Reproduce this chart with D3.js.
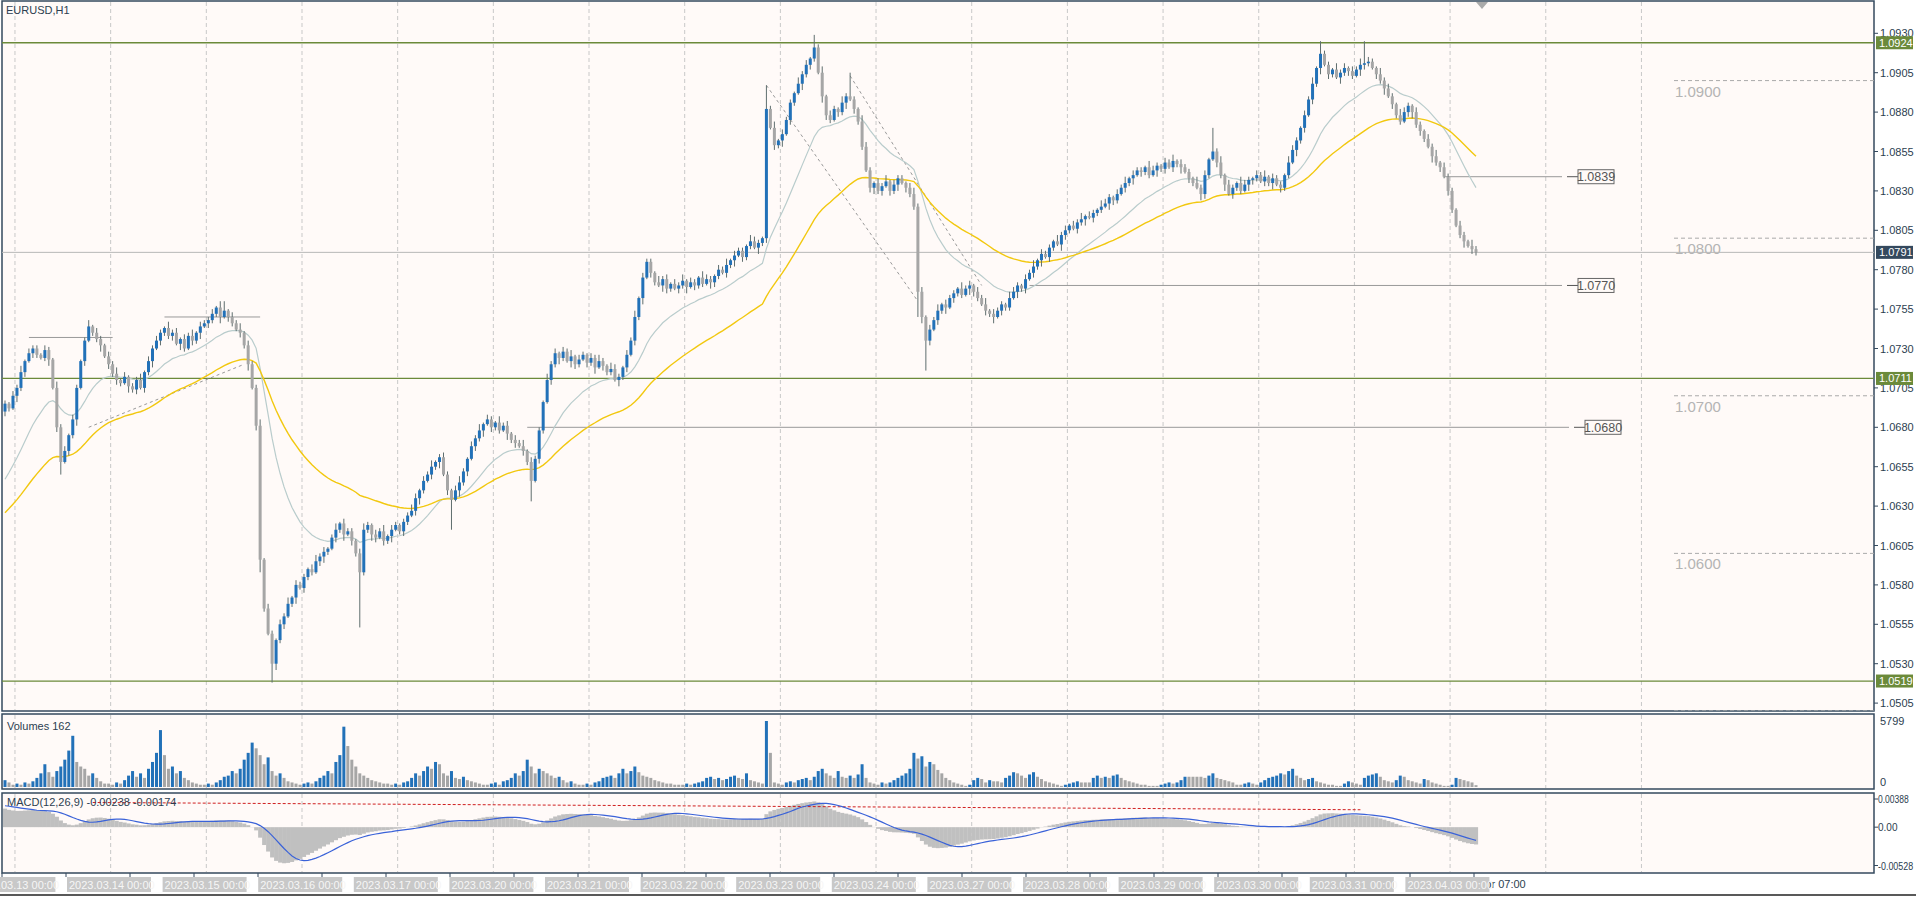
<!DOCTYPE html>
<html><head><meta charset="utf-8">
<script src="https://cdn.jsdelivr.net/npm/d3@7"></script>
<style>body{margin:0;background:#fff;overflow:hidden}svg{display:block}text{font-family:"Liberation Sans",Arial,sans-serif}</style>
</head><body><svg id="c" width="1916" height="897"></svg>
<script>
// ---------------- DATA ----------------
const symbol = "EURUSD,H1";
const pipBase = 1.05; // close values below are in pips above 1.0500
const closePips = [
195,192,200,205,215,222,227, 230,226,224,229,223, 205,180,158, 165,175,185, 205,222,235,244,
240,236,232,225,220,214,210, 208,212,206,204, 210,205,215,222,230,235,240,243,
238,240,233,236,230,238,235, 240,244,246,248,252,256,250,254, 250,246,242,240,232,220,
205,181,96, 65,49,30, 45,55,60,68,72, 80,78,85,90,88,95,98,101,103, 110,115,119,
112,114,108,100,88,115, 118,112,110,114,108,111, 115,118,114,120,124,127,
135,140,146,150,155,158,161, 150,140,134, 140,145,152,160,168,173, 178,182,185,
180,183,178,181,176,172,170,168,165, 158,146, 160,178,196, 210,220,227,
224,228,222,225,220,223,226,221,224,218,222,219, 215,217,210,212, 218,226,235,
250,262,275,285, 278,272,270,274,268,271,268, 270,273,269,272,270,275,271,274,272,
276,280,278,283,286,289, 292,288,295,298,294,297,300, 382,370,359, 362,366,375,386,
392,398,404,410,414,421, 405,390,378, 375,382,380,386,390, 388,382,374, 358,343,332,
335,330,333,336,330,334,338,335,332, 328,320, 266,250,235, 242,248,254,258,
256,262,265,268,264,268,270, 266,262,258,254,252,250, 254,258,256,262,266,270,268,274,278,
282,286,290,288,294,298,296,302,305, 308,306,310,312,314,313,316,318,320,
322,326,324,328,332,335,338,340,343, 342,345,340,343,346,344,348,345,349,347,
345,342,338,335,332,328, 340,350,355, 348,340,334,328, 332,335,330,334,337,338,
340,336,339,335,338,334,332, 340,348,356,362,370,378, 388,398,408,417,
410,404,407,402,405, 408,406,403,407,410,411, 412,408,404,400,395,390,
385,378,374, 380,384,380, 372,368,363, 358,352,348,345,339, 330,318,308, 302,298,295,293,291];
const firstOpenPips = 190;
const wickUp   = "2132413221321423132124132132413122413232142313241322314213241322413213241322134231241322134213241321224313241232134213241321423132413221423132413213242143213241322142313241321432132413221432132413221423132413214232143213241322134231324132214231324132214321324132214231324132143213241322143213241322142313241321432132413221432132413221423132413214232143213";
const wickDown = "3214231321241321324131224132321423132413223142132413224132132413221342312413221342132413212243132412321342132413214231324132214231324132132421432132413221423132413214321324132214321324132214231324132142321432132413221342313241322142313241322143213241322142313241321432132413221432132413221423132413214321324132214321324132214231324132142321432132413221342";
const wickOverride = {14:{l:150},55:{h:260},64:{l:88},67:{l:18},89:{l:53},112:{l:115},132:{l:133},
  191:{h:397},203:{h:429},212:{h:405},229:{l:250},231:{l:216},303:{h:370},330:{h:425},341:{h:425}};
const volHundreds = [6,4,
2,3,2,4,3,5,8,12,20,13,9,14,18,24,32,45,22,18,16,10,12,8,5,3,
3,2,4,3,6,10,14,9,12,8,16,22,30,50,28,16,18,12,14,8,6,4,3,2,
2,3,2,4,6,9,10,14,12,16,24,30,39,34,28,20,26,14,10,12,8,5,4,3,
2,3,4,3,5,8,10,14,12,22,28,53,36,24,18,12,10,8,6,5,4,3,3,2,
3,2,4,5,8,12,10,14,18,16,22,20,12,10,14,8,7,9,6,5,4,3,2,2,
3,4,2,5,6,8,12,10,14,24,18,12,16,14,12,10,8,9,6,4,5,3,2,2,
3,2,4,5,8,9,10,8,12,16,12,14,18,13,10,9,8,6,5,4,3,3,2,2,
2,3,2,3,4,5,8,9,7,8,6,7,9,10,8,7,12,6,5,4,3,57.99,30,4,
3,2,4,5,4,6,7,8,6,9,14,16,12,10,8,14,9,8,10,8,11,20,8,4,
3,2,4,3,4,6,8,10,12,16,30,25,27,18,22,20,15,12,8,6,4,3,2,1,
2,6,8,7,4,6,5,5,4,8,10,13,12,10,8,11,13,9,7,5,4,3,2,1,
2,3,4,5,4,4,4,8,10,8,9,8,10,11,8,6,5,4,3,2,2,1,1,1,
2,3,4,3,4,6,9,9,9,9,9,8,10,12,8,7,6,5,4,2,2,3,4,3,
2,4,6,8,9,10,12,11,14,16,10,8,6,7,8,5,4,3,2,2,1,1,3,5,
4,3,2,8,10,11,12,9,6,5,4,6,10,9,6,5,4,3,7,6,4,3,2,1,
1,2,8,7,6,5,4,1.62];
const maFastPeriod = 20, maSlowPeriod = 50;
const maFastSeed = 1.0642, maSlowSeed = 1.0623;
const ema12Seed = 1.0688, ema26Seed = 1.0661, macdSignalSeed = 0.0030;
const priceTicks = [1.0930,1.0905,1.0880,1.0855,1.0830,1.0805,1.0780,1.0755,1.0730,1.0705,1.0680,1.0655,1.0630,1.0605,1.0580,1.0555,1.0530,1.0505];
const greenLevels = [1.0924,1.0711,1.0519];
const currentPrice = 1.0791;
const roundLevels = [1.0900,1.0800,1.0700,1.0600,1.0500];
const labeledLevels = [{p:1.0839,from:361,bx:1578},{p:1.0770,from:257,bx:1578},{p:1.0680,from:131,bx:1585}];
const shortLevels = [{p:1.0737,from:6,to:27},{p:1.0750,from:40,to:64}];
const trendLines = [[191,1.0897,229,1.0760],[212,1.0903,245,1.0770],[21,1.0680,60,1.0720]];
const macdRedLine = [[22,0.0034],[340,0.0024]];
const macdTicks = [0.00388,0,-0.00528];
const macdTickLabels = ["0.00388","0.00","-0.00528"];
const dayBoxes = ["2023.03.13 00:00","2023.03.14 00:00","2023.03.15 00:00","2023.03.16 00:00","2023.03.17 00:00","2023.03.20 00:00","2023.03.21 00:00","2023.03.22 00:00","2023.03.23 00:00","2023.03.24 00:00","2023.03.27 00:00","2023.03.28 00:00","2023.03.29 00:00","2023.03.30 00:00","2023.03.31 00:00","2023.04.03 00:00"];
const lastLabel = "Apr 07:00";

// ---------------- BUILD ----------------
const N = closePips.length;
const P = v => +(pipBase + v/10000).toFixed(5);
const candles = closePips.map((c,i)=>{
  const o = i===0 ? firstOpenPips : closePips[i-1];
  let h = Math.max(o,c) + (+wickUp[i % wickUp.length]);
  let l = Math.min(o,c) - (+wickDown[i % wickDown.length]);
  const ov = wickOverride[i]; if(ov){ if(ov.h) h=ov.h; if(ov.l) l=ov.l; }
  return {i,o:P(o),c:P(c),h:P(h),l:P(l),v:Math.round(volHundreds[i]*100)};
});
function ema(vals,period,seed){const k=2/(period+1);let e=seed;return vals.map(v=>e=v*k+e*(1-k));}
const closes = candles.map(d=>d.c);
const maF = ema(closes,maFastPeriod,maFastSeed), maS = ema(closes,maSlowPeriod,maSlowSeed);
const e12 = ema(closes,12,ema12Seed), e26 = ema(closes,26,ema26Seed);
const macd = e12.map((v,i)=>v-e26[i]);
let sig=[]; macd.forEach((m,i)=>{const w=macd.slice(Math.max(0,i-8),i+1);const pad=9-w.length;sig.push((w.reduce((a,b)=>a+b,0)+pad*macdSignalSeed)/9);});

const svg = d3.select("#c");
const BG="#fffaf8", AX="#34495e", TXT="#2c3e50";
svg.append("rect").attr("width",1916).attr("height",897).attr("fill","#fff");
const L=2,R=1874;
const panels={main:[1,711],vol:[714,789],macd:[793,873]};
Object.values(panels).forEach(([t,b])=>svg.append("rect").attr("x",L).attr("y",t).attr("width",R-L).attr("height",b-t).attr("fill",BG).attr("stroke",AX).attr("stroke-width",1.5));

const x = d3.scaleLinear().domain([0,N-1]).range([5,1476]);
const y = d3.scaleLinear().domain([1.0930,1.0505]).range([33.3,703.1]);
const yv = d3.scaleLinear().domain([0,5799]).range([787,721]);
const ym = d3.scaleLinear().domain([0.00388,-0.00528]).range([799,865.5]);

const grid = svg.append("g");
d3.range(2.5,N+60,24).forEach(k=>{const gx=x(k);if(gx<R)[panels.main,panels.vol,panels.macd].forEach(([t,b])=>grid.append("line").attr("x1",gx).attr("x2",gx).attr("y1",t+1).attr("y2",b-1).attr("stroke","#c8c8c8").attr("stroke-dasharray","4,3"));});

svg.append("defs").append("clipPath").attr("id","cm").append("rect").attr("x",L).attr("y",1).attr("width",R-L).attr("height",710);
const gm = svg.append("g").attr("clip-path","url(#cm)");

roundLevels.forEach(p=>{gm.append("line").attr("x1",1674).attr("x2",R).attr("y1",y(p)).attr("y2",y(p)).attr("stroke","#aaa").attr("stroke-dasharray","4,3");
  if(y(p)+18<711) gm.append("text").attr("x",1675).attr("y",y(p)+16).attr("font-size",15).attr("fill","#b4b4b4").text(p.toFixed(4));});
greenLevels.forEach(p=>gm.append("line").attr("x1",L).attr("x2",R).attr("y1",y(p)).attr("y2",y(p)).attr("stroke","#6b8a3a").attr("stroke-width",1.3));
gm.append("line").attr("x1",L).attr("x2",R).attr("y1",y(currentPrice)).attr("y2",y(currentPrice)).attr("stroke","#b8b8b8");
shortLevels.forEach(s=>gm.append("line").attr("x1",x(s.from)).attr("x2",x(s.to)).attr("y1",y(s.p)).attr("y2",y(s.p)).attr("stroke","#999"));
labeledLevels.forEach(s=>{const yy=y(s.p);
  gm.append("line").attr("x1",x(s.from)).attr("x2",s.bx-16).attr("y1",yy).attr("y2",yy).attr("stroke","#999");
  gm.append("line").attr("x1",s.bx-11).attr("x2",s.bx).attr("y1",yy).attr("y2",yy).attr("stroke","#555");
  gm.append("rect").attr("x",s.bx).attr("y",yy-7).attr("width",36).attr("height",14).attr("fill","none").attr("stroke","#666");
  gm.append("text").attr("x",s.bx+18).attr("y",yy+4.5).attr("text-anchor","middle").attr("font-size",12.5).attr("fill","#555").text(s.p.toFixed(4));});
trendLines.forEach(t=>gm.append("line").attr("x1",x(t[0])).attr("y1",y(t[1])).attr("x2",x(t[2])).attr("y2",y(t[3])).attr("stroke","#999").attr("stroke-dasharray","3,3"));

const line=(yy,arr)=>d3.line().x((d,i)=>x(i)).y(d=>yy(d))(arr);
gm.append("path").attr("d",line(y,maF)).attr("fill","none").attr("stroke","#b9cccc").attr("stroke-width",1.2);
gm.append("path").attr("d",line(y,maS)).attr("fill","none").attr("stroke","#f2c80f").attr("stroke-width",1.4);

const UP="#2271b8", DN="#a6a6a6";
const cg=gm.append("g");
candles.forEach(d=>{const cx=x(d.i);
  cg.append("line").attr("x1",cx).attr("x2",cx).attr("y1",y(d.h)).attr("y2",y(d.l)).attr("stroke","#5f6e6e").attr("stroke-width",1);
  const t=y(Math.max(d.o,d.c)), b=y(Math.min(d.o,d.c));
  cg.append("rect").attr("x",cx-1.5).attr("y",t).attr("width",3).attr("height",Math.max(1,b-t)).attr("fill",d.c>=d.o?UP:DN);
});

const ax=svg.append("g");
priceTicks.forEach(p=>{ax.append("line").attr("x1",R).attr("x2",R+4).attr("y1",y(p)).attr("y2",y(p)).attr("stroke",AX);
  ax.append("text").attr("x",R+6).attr("y",y(p)+4).attr("font-size",11).attr("fill",TXT).text(p.toFixed(4));});
const tag=(p,fill)=>{ax.append("rect").attr("x",R+2).attr("y",y(p)-6.5).attr("width",37).attr("height",13).attr("fill",fill);
  ax.append("text").attr("x",R+5).attr("y",y(p)+4).attr("font-size",11).attr("fill","#fff").text(p.toFixed(4));};
greenLevels.forEach(p=>tag(p,"#6b8a3a")); tag(currentPrice,"#34495e");
svg.append("text").attr("x",6).attr("y",14).attr("font-size",11).attr("fill",TXT).text(symbol);
svg.append("path").attr("d","M1476,2 L1488,2 L1482,9 Z").attr("fill","#aaa");

svg.append("text").attr("x",7).attr("y",730).attr("font-size",11).attr("fill",TXT).text("Volumes "+candles[N-1].v);
candles.forEach((d,i)=>{const up=i===0||d.v>candles[i-1].v;
  svg.append("rect").attr("x",x(i)-1.5).attr("y",yv(d.v)).attr("width",3).attr("height",yv(0)-yv(d.v)).attr("fill",up?UP:DN);});
svg.append("text").attr("x",R+6).attr("y",725).attr("font-size",11).attr("fill",TXT).text("5799");
svg.append("text").attr("x",R+6).attr("y",786).attr("font-size",11).attr("fill",TXT).text("0");

macd.forEach((m,i)=>{svg.append("rect").attr("x",x(i)-2).attr("width",4.1).attr("y",Math.min(ym(m),ym(0))).attr("height",Math.abs(ym(m)-ym(0))).attr("fill","#c0c0c0");});
svg.append("path").attr("d",d3.line().x(d=>x(d[0])).y(d=>ym(d[1]))(macdRedLine)).attr("stroke","#d02020").attr("stroke-dasharray","3,2").attr("fill","none");
svg.append("path").attr("d",line(ym,sig)).attr("fill","none").attr("stroke","#3a62d8").attr("stroke-width",1.2);
svg.append("text").attr("x",7).attr("y",806).attr("font-size",11).attr("fill",TXT).text("MACD(12,26,9) -0.00238 -0.00174");
macdTicks.forEach((v,k)=>{ax.append("line").attr("x1",R).attr("x2",R+4).attr("y1",ym(v)).attr("y2",ym(v)).attr("stroke",AX);
  const t=svg.append("text").attr("x",R+4).attr("y",ym(v)+4).attr("font-size",10).attr("fill",TXT).text(macdTickLabels[k]);
  if(macdTickLabels[k].length>5) t.attr("textLength",macdTickLabels[k].length*4.4).attr("lengthAdjust","spacingAndGlyphs");});

const tg=svg.append("g");
d3.range(0,24).forEach(k=>{const tx=2+64*k;
  tg.append("line").attr("x1",tx).attr("x2",tx).attr("y1",873).attr("y2",877).attr("stroke",AX);});
tg.append("text").attr("x",1478).attr("y",888).attr("font-size",11).attr("fill",TXT).text(lastLabel);
dayBoxes.forEach((s,k)=>{const bx=67+95.6*(k-1);
  tg.append("rect").attr("x",bx).attr("y",877).attr("width",84).attr("height",15).attr("fill","#c8c8c8");
  tg.append("text").attr("x",bx+2).attr("y",888.5).attr("font-size",11).attr("fill","#f6f6f6").text(s);});
svg.append("line").attr("x1",0).attr("x2",1916).attr("y1",895).attr("y2",895).attr("stroke","#222").attr("stroke-width",1.5);
</script></body></html>
